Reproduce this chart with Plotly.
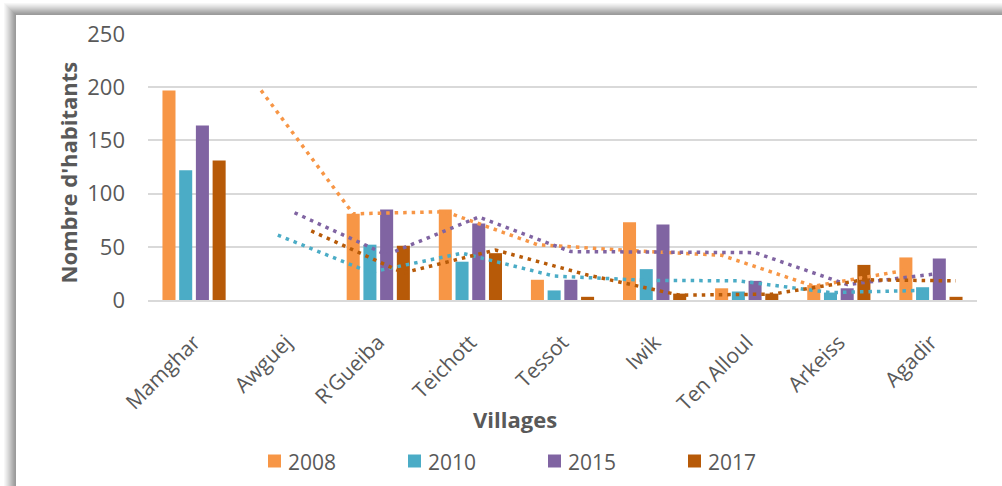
import plotly.graph_objects as go

# Villages and population counts per census year
villages = ["Mamghar", "Awguej", "R'Gueiba", "Teichott", "Tessot", "Iwik",
            "Ten Alloul", "Arkeiss", "Agadir"]
years = ["2008", "2010", "2015", "2017"]
pop_2008 = [197, None, 81, 85, 19, 73, 11, 14, 40]
pop_2010 = [122, None, 52, 36, 9, 29, 8, 7, 12]
pop_2015 = [164, None, 85, 72, 19, 71, 18, 11, 39]
pop_2017 = [131, None, 51, 44, 3, 6, 6, 33, 3]

# Moving-average trend values (2 periods), from Awguej to Agadir
trend_2008 = [197, 81, 83, 52, 46.5, 42, 13, 28]
trend_2010 = [61, 26, 44, 22.5, 18.5, 18, 7, 9]
trend_2015 = [82, 42.5, 78, 45.5, 45, 44.5, 14.5, 25]
trend_2017 = [65, 25.5, 47, 23.5, 4.5, 5.5, 19, 18]

y_ticks = [0, 50, 100, 150, 200, 250]

colors = ["#F79646", "#4BACC6", "#8064A2", "#B75A08"]
series = [pop_2008, pop_2010, pop_2015, pop_2017]
trends = [trend_2008, trend_2010, trend_2015, trend_2017]

W, H = 1002, 486
L, R, T, B = 148, 25, 34, 186
PW, PH = W - L - R, H - T - B

BARGAP = 0.274
BARGROUPGAP = 0.22
FONT = "Open Sans"
GREY = "#595959"


def px_x(p):
    return (p - L) / PW


def px_y(p):
    return (H - B - p) / PH


fig = go.Figure()
idx = list(range(len(villages)))
for year, vals, col in zip(years, series, colors):
    fig.add_trace(go.Bar(x=idx, y=vals, name=year, marker_color=col,
                         marker_line_width=0))

# Trend lines sit over their own bar within each group
slot = (1 - BARGAP) / len(years)
for k, (tr, col) in enumerate(zip(trends, colors)):
    off = (k - (len(years) - 1) / 2) * slot
    fig.add_trace(go.Scatter(
        x=[i + off for i in idx[1:]], y=tr, mode="lines",
        line=dict(color=col, width=3.5, dash="3.5px,5px"),
        showlegend=False, hoverinfo="skip"))

# Chart frame with a soft shadow on the top and left edges
shapes = []
shade = [247, 240, 232, 224, 215, 206, 196, 186, 177, 168, 160, 155]
n = len(shade)
for j, g in enumerate(shade):
    k = n - j
    shapes.append(dict(type="rect", xref="paper", yref="paper", layer="below",
                       x0=px_x(16 - k), x1=px_x(W + 20),
                       y0=px_y(H + 20), y1=px_y(15 - k),
                       fillcolor=f"rgb({g},{g},{g})", line_width=0))
shapes.append(dict(type="rect", xref="paper", yref="paper", layer="below",
                   x0=px_x(16), x1=px_x(W + 20), y0=px_y(H + 20), y1=px_y(15),
                   fillcolor="white", line_width=0))

annotations = [
    dict(text="<b>Villages</b>", xref="paper", yref="paper",
         x=px_x(514.5), y=px_y(419), xanchor="center", yanchor="middle",
         showarrow=False, font=dict(family=FONT, size=22, color=GREY)),
    dict(text="<b>Nombre d'habitants</b>", xref="paper", yref="paper",
         x=px_x(67), y=px_y(172.5), xanchor="center", yanchor="middle",
         showarrow=False, textangle=-90,
         font=dict(family=FONT, size=22, color=GREY)),
]

# Legend row: coloured square followed by the year
LEG_X0, LEG_STEP, LEG_Y, SQ = 268, 140, 461, 13
for k, (year, col) in enumerate(zip(years, colors)):
    x0 = LEG_X0 + k * LEG_STEP
    shapes.append(dict(type="rect", xref="paper", yref="paper",
                       x0=px_x(x0), x1=px_x(x0 + SQ),
                       y0=px_y(LEG_Y + SQ / 2), y1=px_y(LEG_Y - SQ / 2),
                       fillcolor=col, line_width=0))
    annotations.append(dict(text=year, xref="paper", yref="paper",
                            x=px_x(x0 + SQ + 5), y=px_y(LEG_Y + 1),
                            xanchor="left", yanchor="middle", showarrow=False,
                            font=dict(family=FONT, size=21, color=GREY)))

fig.update_layout(
    width=W, height=H,
    margin=dict(l=L, r=R, t=T, b=B, pad=0, autoexpand=False),
    paper_bgcolor="white", plot_bgcolor="rgba(0,0,0,0)",
    barmode="group", bargap=BARGAP, bargroupgap=BARGROUPGAP,
    font=dict(family=FONT, color=GREY, size=21),
    shapes=shapes,
    showlegend=False,
    annotations=annotations,
)

fig.update_xaxes(range=[-0.5, len(villages) - 0.5], tickvals=idx,
                 ticktext=villages, tickangle=-45, showgrid=False,
                 zeroline=False, showline=True, linecolor="#D9D9D9",
                 linewidth=1.5, ticks="", ticklabelstandoff=20,
                 automargin=False,
                 tickfont=dict(family=FONT, size=21, color=GREY))
fig.update_yaxes(range=[0, 250], tickvals=y_ticks, showgrid=True,
                 gridcolor="#D9D9D9", gridwidth=1.5, zeroline=False,
                 showline=False, ticks="", ticklabelstandoff=22,
                 automargin=False,
                 tickfont=dict(family=FONT, size=22, color=GREY))

fig.write_html("out.html")
